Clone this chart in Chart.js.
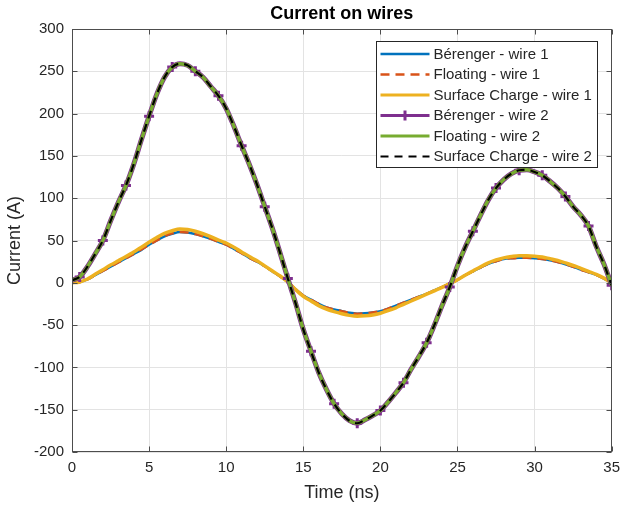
<!DOCTYPE html>
<html>
<head>
<meta charset="utf-8">
<title>Current on wires</title>
<script src="https://cdn.jsdelivr.net/npm/chart.js@4.4.0/dist/chart.umd.min.js"></script>
<style>
  html, body { margin: 0; padding: 0; background: #fff; }
  #wrap { position: relative; width: 620px; height: 506px; }
</style>
</head>
<body>
<div id="wrap"><canvas id="chart"></canvas></div>
<script>
// Time axis, sampled every 0.5 ns
const timeNs = [
  0, 0.5, 1, 1.5, 2, 2.5, 3, 3.5, 4, 4.5,
  5, 5.5, 6, 6.5, 7, 7.5, 8, 8.5, 9, 9.5,
  10, 10.5, 11, 11.5, 12, 12.5, 13, 13.5, 14, 14.5,
  15, 15.5, 16, 16.5, 17, 17.5, 18, 18.5, 19, 19.5,
  20, 20.5, 21, 21.5, 22, 22.5, 23, 23.5, 24, 24.5,
  25, 25.5, 26, 26.5, 27, 27.5, 28, 28.5, 29, 29.5,
  30, 30.5, 31, 31.5, 32, 32.5, 33, 33.5, 34, 34.5,
  35
];

// Current on wire 1 (A)
const berengerWire1 = [
  0, 1, 4, 9, 14, 19, 24, 29, 34, 39,
  45, 50, 55, 58, 60, 59.5, 57.5, 55, 52, 48.5,
  45, 40, 35, 29.5, 25, 19.5, 13.5, 7.5, 1, -7.5,
  -15, -20, -25, -29, -31.5, -33.5, -35.5, -36.5, -36, -35,
  -33.5, -30.5, -27, -23.5, -20, -16.5, -13, -9, -5, -1,
  3.5, 9, 13.5, 18, 22.5, 25.5, 28, 29, 29.5, 29.5,
  29, 28, 26.5, 24.5, 22, 19, 15.5, 12.5, 9.5, 5,
  0
];
const floatingWire1 = [
  0, 1, 4, 9, 14, 19, 24, 29, 34, 39.5,
  45, 50, 55, 58.5, 60, 59.5, 57.5, 55, 52, 48.5,
  45, 40, 35, 29.5, 25, 19.5, 13.5, 7.5, 1, -7.5,
  -15, -20, -25, -29, -31.5, -33.5, -35.5, -36.5, -36, -35,
  -33.5, -30.5, -27, -23.5, -20, -16.5, -13, -9, -5, -1,
  3.5, 9, 13.5, 18, 22.5, 25.5, 28, 29, 29.5, 29.5,
  29, 28, 26.5, 24.5, 22, 19, 15.5, 12.5, 9.5, 5,
  0
];
const surfaceWire1 = [
  0, 1, 4.5, 10, 15.5, 21, 26, 31, 36.5, 42,
  48, 53.5, 58.5, 61.5, 63.5, 63, 61, 58, 54.5, 50.5,
  47, 42, 36.5, 31, 26, 20, 14, 8, 1, -8,
  -16, -21.5, -27, -31, -34, -36.5, -38.5, -39.5, -39, -38,
  -36, -33, -29.5, -25.5, -21.5, -17.5, -13.5, -9.5, -5.5, -1,
  3.5, 9, 14, 19, 23.5, 27, 29.5, 31, 32, 32,
  31.5, 30.5, 28.5, 26.5, 23.5, 20.5, 17, 13.5, 10, 5.5,
  0
];

// Current on wire 2 (A)
const berengerWire2 = [
  3, 7, 19, 34, 50, 73, 95, 115, 140, 169,
  197, 223, 243, 255, 259, 257, 250, 243, 232, 221,
  206, 185, 162, 140, 116, 90, 64, 35, 5, -24,
  -55, -81, -106, -126, -143, -155, -163, -166, -162, -157,
  -151, -141, -130, -118, -102, -87, -71, -50, -27, -5,
  20, 42, 61, 80, 98, 112, 122, 129, 133, 133.5,
  131, 127, 120, 112, 102, 90, 80, 67, 43, 22,
  -3
];
const floatingWire2 = [
  3, 7, 19, 34, 50, 73, 95, 115, 140, 169,
  197, 223, 243, 255, 259, 257, 250, 243, 232, 221,
  206, 185, 162, 140, 116, 90, 64, 35, 5, -24,
  -55, -81, -106, -126, -143, -155, -163, -166, -162, -157,
  -151, -141, -130, -118, -102, -87, -71, -50, -27, -5,
  20, 42, 61, 80, 98, 112, 122, 129, 133, 133.5,
  131, 127, 120, 112, 102, 90, 80, 67, 43, 22,
  -3
];
const surfaceWire2 = [
  3, 7, 19, 34, 50, 73, 95, 115, 140, 169,
  197, 223, 243, 255, 259, 257, 250, 243, 232, 221,
  206, 185, 162, 140, 116, 90, 64, 35, 5, -24,
  -55, -81, -106, -126, -143, -155, -163, -166, -162, -157,
  -151, -141, -130, -118, -102, -87, -71, -50, -27, -5,
  20, 42, 61, 80, 98, 112, 122, 129, 133, 133.5,
  131, 127, 120, 112, 102, 90, 80, 67, 43, 22,
  -3
];

const seriesLabels = [
  'Bérenger - wire 1', 'Floating - wire 1', 'Surface Charge - wire 1',
  'Bérenger - wire 2', 'Floating - wire 2', 'Surface Charge - wire 2'
];
const titleText = 'Current on wires';
const xTitle = 'Time (ns)';
const yTitle = 'Current (A)';

const FONT = '"Liberation Sans", Arial, Helvetica, sans-serif';
const TEXT = '#262626';

function toPoints(values) {
  return timeNs.map((t, i) => ({ x: t, y: values[i] }));
}

// Each entry: values, colour, width, dash
const styles = [
  [berengerWire1, '#0072BD', 2.5, []],
  [floatingWire1, '#D95319', 2.5, [9, 6]],
  [surfaceWire1, '#EDB120', 3.5, []],
  [berengerWire2, '#7E2F8E', 5, []],
  [floatingWire2, '#77AC30', 3.5, []],
  [surfaceWire2, '#000000', 2.2, [8, 6]]
];

const datasets = styles.map(([values, color, width, dash], i) => ({
  label: seriesLabels[i],
  data: toPoints(values),
  borderColor: color,
  backgroundColor: color,
  borderWidth: width,
  borderDash: dash,
  cubicInterpolationMode: 'monotone',
  pointStyle: i === 3 ? 'cross' : 'circle',
  // '+' markers every third sample on the Bérenger wire 2 curve
  pointRadius: i === 3 ? (ctx => (ctx.dataIndex % 3 === 1 ? 5 : 0)) : 0,
  pointBorderWidth: 3,
  pointBorderColor: color,
  order: styles.length - i,   // later series drawn on top, like MATLAB
  fill: false
}));

// Box, inward ticks, title and legend drawn MATLAB style
const matlabFrame = {
  id: 'matlabFrame',
  afterDraw(chart) {
    const { ctx, chartArea: a, scales: { x, y } } = chart;
    const L = Math.round(a.left) + 0.5, R = Math.round(a.right) - 0.5;
    const T = Math.round(a.top) + 0.5, B = Math.round(a.bottom) - 0.5;
    ctx.save();
    ctx.strokeStyle = '#4d4d4d';
    ctx.lineWidth = 1;
    ctx.strokeRect(L, T, R - L, B - T);
    ctx.beginPath();
    x.ticks.forEach(t => {
      const px = Math.round(x.getPixelForValue(t.value)) + 0.5;
      ctx.moveTo(px, B); ctx.lineTo(px, B - 5);
      ctx.moveTo(px, T); ctx.lineTo(px, T + 5);
    });
    y.ticks.forEach(t => {
      const py = Math.round(y.getPixelForValue(t.value)) + 0.5;
      ctx.moveTo(L, py); ctx.lineTo(L + 5, py);
      ctx.moveTo(R, py); ctx.lineTo(R - 5, py);
    });
    ctx.stroke();

    ctx.fillStyle = '#000';
    ctx.font = 'bold 18px ' + FONT;
    ctx.textAlign = 'center';
    ctx.textBaseline = 'middle';
    ctx.fillText(titleText, (a.left + a.right) / 2, 14);

    const bw = 221, bh = 126, row = 20.5;
    const bx = Math.round(a.right - 15 - bw) + 0.5, by = Math.round(a.top + 12) + 0.5;
    ctx.fillStyle = '#fff';
    ctx.fillRect(bx, by, bw, bh);
    ctx.strokeStyle = '#262626';
    ctx.lineWidth = 1;
    ctx.strokeRect(bx, by, bw, bh);
    ctx.font = '15px ' + FONT;
    ctx.textAlign = 'left';
    chart.data.datasets.forEach((ds, i) => {
      const cy = by + 12.5 + i * row;
      ctx.save();
      ctx.strokeStyle = ds.borderColor;
      ctx.lineWidth = Math.min(ds.borderWidth, 3);
      ctx.setLineDash(ds.borderDash);
      ctx.beginPath();
      ctx.moveTo(bx + 4, cy);
      ctx.lineTo(bx + 53, cy);
      ctx.stroke();
      if (ds.pointStyle === 'cross') {
        ctx.setLineDash([]);
        ctx.lineWidth = 3;
        ctx.beginPath();
        ctx.moveTo(bx + 28.5, cy - 5); ctx.lineTo(bx + 28.5, cy + 5);
        ctx.moveTo(bx + 23.5, cy); ctx.lineTo(bx + 33.5, cy);
        ctx.stroke();
      }
      ctx.restore();
      ctx.fillStyle = TEXT;
      ctx.fillText(ds.label, bx + 57, cy + 0.5);
    });
    ctx.restore();
  }
};

new Chart(document.getElementById('chart'), {
  type: 'line',
  data: { datasets },
  options: {
    responsive: true,
    maintainAspectRatio: false,
    animation: false,
    events: [],
    layout: { padding: { top: 29, right: 0, left: 0, bottom: 0 } },
    plugins: {
      legend: { display: false },
      title: { display: false },
      tooltip: { enabled: false }
    },
    scales: {
      x: {
        type: 'linear',
        min: 0,
        max: 35,
        // gap under the axis comes from an invisible tick length so the
        // last label does not push the plot area inwards
        ticks: { stepSize: 5, color: TEXT, font: { family: FONT, size: 15 }, padding: 0, maxRotation: 0 },
        grid: { color: '#e3e3e3', drawTicks: true, tickLength: 7, tickColor: 'rgba(0,0,0,0)' },
        border: { display: false },
        title: { display: true, text: xTitle, color: TEXT, font: { family: FONT, size: 18 }, padding: { top: 0, bottom: 2 } },
        afterFit(scale) { scale.height = 54; }
      },
      y: {
        min: -200,
        max: 300,
        ticks: { stepSize: 50, color: TEXT, font: { family: FONT, size: 15 }, padding: 8 },
        grid: { color: '#e3e3e3', drawTicks: false },
        border: { display: false },
        title: { display: true, text: yTitle, color: TEXT, font: { family: FONT, size: 18 }, padding: { top: 4, bottom: 0 } },
        afterFit(scale) { scale.width = 72; }
      }
    }
  },
  plugins: [matlabFrame]
});
</script>
</body>
</html>
